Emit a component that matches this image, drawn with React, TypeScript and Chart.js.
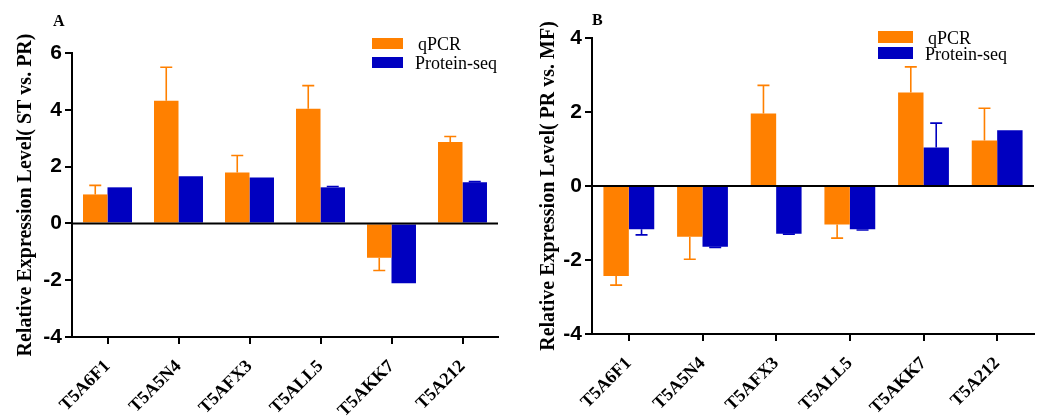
import React, { useEffect, useRef } from "react";
import { Chart, registerables } from "chart.js";
Chart.register(...registerables);

// ---- data ----
const categories = ["T5A6F1", "T5A5N4", "T5AFX3", "T5ALL5", "T5AKK7", "T5A212"];

const qpcrA = [1.02, 4.32, 1.79, 4.04, -1.21, 2.87];
const qpcrErrA = [0.32, 1.18, 0.6, 0.81, 0.45, 0.19];
const proteinA = [1.27, 1.66, 1.62, 1.27, -2.11, 1.45];
const proteinErrA = [0.0, 0.0, 0.0, 0.03, 0.0, 0.02];

const qpcrB = [-2.43, -1.37, 1.96, -1.04, 2.53, 1.23];
const qpcrErrB = [0.25, 0.61, 0.76, 0.37, 0.69, 0.87];
const proteinB = [-1.17, -1.64, -1.29, -1.17, 1.04, 1.51];
const proteinErrB = [0.15, 0.02, 0.01, 0.02, 0.66, 0.0];

const yTicksA = { min: -4, max: 6, step: 2 };
const yTicksB = { min: -4, max: 4, step: 2 };

const seriesNames = ["qPCR", "Protein-seq"];

const ORANGE = "#FF8000";
const BLUE = "#0000C0";

const overlayPlugin = {
  id: "overlay",
  afterDatasetsDraw(chart: any, _args: any, opts: any) {
    const ctx = chart.ctx;
    const y = chart.scales.y;
    const area = chart.chartArea;
    ctx.save();
    const y0 = y.getPixelForValue(0);
    ctx.strokeStyle = "#000";
    ctx.lineWidth = 2;
    ctx.beginPath();
    ctx.moveTo(area.left, y0);
    ctx.lineTo(area.right, y0);
    ctx.stroke();
    chart.data.datasets.forEach((ds: any, i: number) => {
      const meta = chart.getDatasetMeta(i);
      meta.data.forEach((el: any, j: number) => {
        const v = ds.data[j];
        const e = ds.errors[j];
        if (!e) return;
        const end = v + (v >= 0 ? e : -e);
        const py = y.getPixelForValue(end);
        ctx.strokeStyle = ds.backgroundColor;
        ctx.lineWidth = 1.6;
        ctx.beginPath();
        ctx.moveTo(el.x, el.y);
        ctx.lineTo(el.x, py);
        ctx.moveTo(el.x - 6, py);
        ctx.lineTo(el.x + 6, py);
        ctx.stroke();
      });
    });
    ctx.restore();
  },
  afterDraw(chart: any, _args: any, opts: any) {
    const ctx = chart.ctx;
    ctx.save();
    ctx.fillStyle = "#000";
    ctx.font = "bold 16px 'Liberation Serif', 'Times New Roman', serif";
    ctx.textBaseline = "alphabetic";
    ctx.textAlign = "left";
    ctx.fillText(opts.letter, opts.letterX, opts.letterY);
    const colors = [ORANGE, BLUE];
    ctx.font = "18px 'Liberation Serif', 'Times New Roman', serif";
    seriesNames.forEach((name, i) => {
      const by = opts.boxY[i];
      ctx.fillStyle = colors[i];
      ctx.fillRect(opts.boxX, by, opts.boxW, opts.boxH);
      ctx.fillStyle = "#000";
      ctx.fillText(name, opts.textX[i], by + opts.boxH + 1);
    });
    ctx.restore();
  },
};

type PanelProps = {
  left: number;
  width: number;
  qpcr: number[];
  qpcrErr: number[];
  protein: number[];
  proteinErr: number[];
  yRange: { min: number; max: number; step: number };
  title: string;
  yWidth: number;
  xHeight: number;
  pad: { top: number; right: number };
  titlePad: number;
  overlay: any;
};

function Panel(p: PanelProps) {
  const ref = useRef<HTMLCanvasElement>(null);
  useEffect(() => {
    if (!ref.current) return;
    const chart = new Chart(ref.current, {
      type: "bar",
      data: {
        labels: categories,
        datasets: [
          {
            label: seriesNames[0],
            data: p.qpcr,
            errors: p.qpcrErr,
            backgroundColor: ORANGE,
            borderWidth: 0,
            barPercentage: 1.0,
            categoryPercentage: 0.69,
          } as any,
          {
            label: seriesNames[1],
            data: p.protein,
            errors: p.proteinErr,
            backgroundColor: BLUE,
            borderWidth: 0,
            barPercentage: 1.0,
            categoryPercentage: 0.69,
          } as any,
        ],
      },
      options: {
        responsive: false,
        animation: false,
        devicePixelRatio: 1,
        layout: { padding: { top: p.pad.top, right: p.pad.right, left: 0, bottom: 0 } },
        plugins: {
          legend: { display: false },
          tooltip: { enabled: false },
          overlay: p.overlay,
        } as any,
        scales: {
          x: {
            grid: {
              display: true,
              drawOnChartArea: false,
              offset: false,
              color: "#000",
              tickLength: 7,
              lineWidth: 2,
            },
            border: { color: "#000", width: 2 },
            ticks: {
              color: "#000",
              font: { family: "'Liberation Serif', 'Times New Roman', serif", size: 18, weight: "bold" },
              minRotation: 45,
              maxRotation: 45,
              autoSkip: false,
              padding: 12,
            },
            afterFit: (s: any) => {
              s.height = p.xHeight;
            },
          },
          y: {
            min: p.yRange.min,
            max: p.yRange.max,
            ticks: {
              stepSize: p.yRange.step,
              color: "#000",
              font: { family: "'Liberation Sans', Arial, sans-serif", size: 21, weight: "bold" },
              padding: 3,
            },
            grid: {
              drawOnChartArea: false,
              color: "#000",
              tickColor: "#000",
              tickLength: 7,
              lineWidth: 2,
            },
            border: { color: "#000", width: 2 },
            title: {
              display: true,
              text: p.title,
              color: "#000",
              font: { family: "'Liberation Serif', 'Times New Roman', serif", size: 20, weight: "bold" },
              padding: { top: p.titlePad, bottom: 0 },
            },
            afterFit: (s: any) => {
              s.width = p.yWidth;
            },
          },
        },
      } as any,
      plugins: [overlayPlugin],
    });
    return () => chart.destroy();
  }, []);
  return (
    <canvas
      ref={ref}
      width={p.width}
      height={417}
      style={{ position: "absolute", left: p.left, top: 0, width: p.width, height: 417 }}
    />
  );
}

export default function App() {
  return (
    <div style={{ position: "absolute", left: 0, top: 0, width: 1042, height: 417, background: "#fff" }}>
      <Panel
        left={0}
        width={521}
        qpcr={qpcrA}
        qpcrErr={qpcrErrA}
        protein={proteinA}
        proteinErr={proteinErrA}
        yRange={yTicksA}
        title="Relative Expression Level( ST vs. PR)"
        yWidth={72}
        xHeight={80}
        pad={{ top: 53, right: 23 }}
        titlePad={14}
        overlay={{
          letter: "A",
          letterX: 53,
          letterY: 26,
          boxX: 372,
          boxY: [38, 57],
          boxW: 31,
          boxH: 11,
          textX: [418, 415],
        }}
      />
      <Panel
        left={521}
        width={521}
        qpcr={qpcrB}
        qpcrErr={qpcrErrB}
        protein={proteinB}
        proteinErr={proteinErrB}
        yRange={yTicksB}
        title="Relative Expression Level( PR vs. MF)"
        yWidth={71}
        xHeight={83}
        pad={{ top: 38, right: 8 }}
        titlePad={16}
        overlay={{
          letter: "B",
          letterX: 71,
          letterY: 25,
          boxX: 357,
          boxY: [31, 47],
          boxW: 35,
          boxH: 12,
          textX: [407, 404],
        }}
      />
    </div>
  );
}
